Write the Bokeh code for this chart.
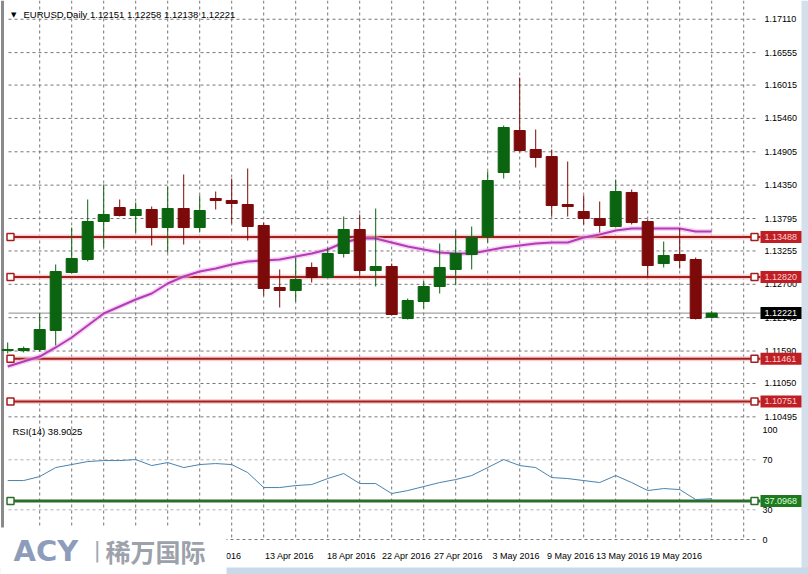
from bokeh.plotting import figure
from bokeh.models import Range1d, ColumnDataSource
from bokeh.core.properties import value
from bokeh.embed import file_html
from bokeh.resources import INLINE

# ---------------- data ----------------
bar = list(range(45))
opens = [1.11599, 1.11599, 1.11616, 1.11932, 1.12897, 1.13113, 1.13745, 1.13978, 1.13845, 1.13945,
         1.13645, 1.13961, 1.13645, 1.14128, 1.14094, 1.14028, 1.13679, 1.12647, 1.12597, 1.12980,
         1.12813, 1.13213, 1.13612, 1.12930, 1.12996, 1.12131, 1.12414, 1.12664, 1.12947, 1.13196,
         1.13496, 1.14560, 1.15259, 1.14943, 1.14826, 1.14028, 1.13911, 1.13795, 1.13662, 1.14228,
         1.13745, 1.13046, 1.13196, 1.13113, 1.12151]
highs = [1.11732, 1.11666, 1.12215, 1.13030, 1.13645, 1.14111, 1.14361, 1.14111, 1.14061, 1.13995,
         1.14327, 1.14527, 1.14178, 1.14244, 1.14460, 1.14627, 1.13728, 1.12947, 1.13146, 1.13063,
         1.13313, 1.13828, 1.13862, 1.13961, 1.13046, 1.12464, 1.12764, 1.13379, 1.13595, 1.13662,
         1.14577, 1.15342, 1.16141, 1.15276, 1.14943, 1.14743, 1.14178, 1.14078, 1.14444, 1.14277,
         1.13778, 1.13412, 1.13629, 1.13146, 1.12258]
lows = [1.11549, 1.11566, 1.11582, 1.11682, 1.12880, 1.13080, 1.13313, 1.13828, 1.13545, 1.13346,
        1.13229, 1.13362, 1.13562, 1.13945, 1.13712, 1.13429, 1.12514, 1.12314, 1.12414, 1.12730,
        1.12797, 1.13146, 1.12830, 1.12664, 1.12181, 1.12115, 1.12298, 1.12547, 1.12697, 1.12947,
        1.13396, 1.14460, 1.14910, 1.14643, 1.13828, 1.13828, 1.13695, 1.13562, 1.13645, 1.13695,
        1.12813, 1.12980, 1.12963, 1.12115, 1.12138]
closes = [1.11616, 1.11632, 1.11948, 1.12913, 1.13130, 1.13745, 1.13862, 1.13845, 1.13945, 1.13645,
          1.13961, 1.13645, 1.13928, 1.14094, 1.14045, 1.13662, 1.12631, 1.12597, 1.12780, 1.12813,
          1.13213, 1.13612, 1.12930, 1.12996, 1.12198, 1.12431, 1.12664, 1.12980, 1.13213, 1.13479,
          1.14427, 1.15309, 1.14926, 1.14810, 1.14011, 1.13995, 1.13795, 1.13679, 1.14244, 1.13728,
          1.13013, 1.13179, 1.13096, 1.12131, 1.12221]
ma = [1.11333, 1.11416, 1.11499, 1.11649, 1.11815, 1.12015, 1.12215, 1.12331, 1.12447, 1.12547,
      1.12714, 1.12830, 1.12913, 1.12963, 1.13030, 1.13080, 1.13096, 1.13113, 1.13163, 1.13213,
      1.13279, 1.13396, 1.13462, 1.13462, 1.13396, 1.13329, 1.13279, 1.13229, 1.13213, 1.13213,
      1.13263, 1.13313, 1.13346, 1.13379, 1.13396, 1.13396, 1.13479, 1.13529, 1.13595, 1.13629,
      1.13629, 1.13629, 1.13629, 1.13579, 1.13579]
rsi = [53.4, 53.4, 56.6, 63.8, 66.2, 68.6, 69.4, 69.4, 70.2, 65.4,
       67.8, 63.8, 66.2, 67.0, 66.2, 59.8, 47.8, 47.8, 49.4, 50.2,
       55.0, 59.0, 51.0, 51.0, 43.0, 45.4, 48.6, 51.8, 54.2, 57.4,
       63.8, 70.2, 65.4, 63.8, 55.8, 55.0, 53.4, 51.8, 57.4, 51.8,
       45.4, 47.0, 46.2, 38.2, 38.9025]
price_ticks = [1.17110, 1.16555, 1.16015, 1.15460, 1.14905, 1.14350, 1.13795,
               1.13255, 1.12700, 1.12145, 1.11590, 1.11050, 1.10495]
levels = [1.13488, 1.12820, 1.11461, 1.10751]
bid = 1.12221
rsi_level = 37.0968
rsi_ticks = [70, 30]
rsi_bounds = ["100", "0"]
date_labels = ["8 Apr 2016", "13 Apr 2016", "18 Apr 2016", "22 Apr 2016", "27 Apr 2016",
               "3 May 2016", "9 May 2016", "13 May 2016", "19 May 2016"]
date_at = [13.24, 17.61, 21.49, 24.93, 28.18, 31.77, 35.18, 38.39, 41.77]   # bar positions of labels
symbol = "EURUSD,Daily"
period = 14

# ---------------- layout: mapping page pixels to data ----------------
W, H = 808, 574
X0, BAR_PX, LEFT = 0.05, 16, 8          # bar coordinate at page x=8, pixels per bar
Y_TOP, Y_BOT, MAIN_TOP, MAIN_H = 1.17289, 1.10451, 8, 411
R70_PX, R_SCALE = 459.3, 1.25           # page y of RSI 70, pixels per RSI unit
GRID_R, GRID_B = 757, 539               # right edge of the grid, bottom of the RSI window


def xpx(px):
    return X0 + (px - LEFT) / BAR_PX


def ypx(py):
    return Y_TOP - (py - MAIN_TOP) * (Y_TOP - Y_BOT) / MAIN_H


def rpx(py):
    return 70 - (py - R70_PX) / R_SCALE


FONT = value("Liberation Sans")
FS = value("9px")
GRID = "#767676"
UP, DN = "#0b640f", "#7d0a0a"
LEVEL_C = "#a51e1e"

p = figure(width=W, height=H, x_range=Range1d(xpx(0), xpx(W)), y_range=Range1d(ypx(H), ypx(0)),
           x_axis_location=None, y_axis_location=None, output_backend="svg", toolbar_location=None,
           min_border_left=0, min_border_right=0, min_border_top=0, min_border_bottom=0,
           outline_line_color=None, background_fill_color="white", border_fill_color="white")
p.extra_y_ranges = {"rsi": Range1d(rpx(H), rpx(0))}
p.grid.visible = False

# window frame bits
p.segment(x0=[xpx(2)], y0=[ypx(0)], x1=[xpx(2)], y1=[ypx(H)], line_color="#8a8a8a", line_width=3)
p.quad(left=[xpx(801)], right=[xpx(W)], top=[ypx(0)], bottom=[ypx(H)], fill_color="#d3dfeb", line_color=None)
p.quad(left=[xpx(0)], right=[xpx(W)], top=[ypx(567)], bottom=[ypx(H)], fill_color="#c9d9ea", line_color=None)

# grid
vgrid = list(range(2, 47, 2))
p.segment(x0=vgrid, y0=[ypx(0)] * len(vgrid), x1=vgrid, y1=[ypx(GRID_B)] * len(vgrid),
          line_color=GRID, line_dash="3 3", line_width=1)
p.segment(x0=[xpx(LEFT)] * len(price_ticks), y0=price_ticks, x1=[xpx(GRID_R)] * len(price_ticks),
          y1=price_ticks, line_color=GRID, line_dash="3 3", line_width=1)
p.segment(x0=[xpx(LEFT)] * len(rsi_ticks), y0=rsi_ticks, x1=[xpx(GRID_R)] * len(rsi_ticks), y1=rsi_ticks,
          line_color="#b0b0b0", line_dash="3 3", line_width=1, y_range_name="rsi")
p.segment(x0=[xpx(LEFT)], y0=[ypx(GRID_B)], x1=[xpx(GRID_R)], y1=[ypx(GRID_B)],
          line_color=GRID, line_dash="3 3", line_width=1)

# level lines
nl = len(levels)
p.segment(x0=[xpx(LEFT)] * nl, y0=levels, x1=[xpx(760)] * nl, y1=levels,
          line_color="#f2c6c6", line_width=5, line_alpha=0.8)
p.segment(x0=[xpx(LEFT)] * nl, y0=levels, x1=[xpx(760)] * nl, y1=levels, line_color=LEVEL_C, line_width=2)
p.segment(x0=[xpx(LEFT)], y0=[bid], x1=[xpx(760)], y1=[bid], line_color="#8c8c8c", line_width=1)

# moving average
p.line(bar, ma, line_color="#f0b8f0", line_width=5, line_alpha=0.6)
p.line(bar, ma, line_color="#b43cb4", line_width=2)

# candles
src = ColumnDataSource(dict(
    x=bar, h=highs, l=lows,
    top=[max(o, c) for o, c in zip(opens, closes)],
    bot=[min(o, c) for o, c in zip(opens, closes)],
    col=[UP if c >= o else DN for o, c in zip(opens, closes)]))
p.segment(x0="x", y0="l", x1="x", y1="h", source=src, line_color="col", line_width=1)
p.vbar(x="x", width=0.69, top="top", bottom="bot", source=src, fill_color="col", line_color="col")

p.scatter([xpx(10)] * nl + [xpx(754)] * nl, levels + levels, marker="square",
          size=7, fill_color="white", line_color=LEVEL_C, line_width=1.5)

# RSI window
p.segment(x0=[xpx(LEFT)], y0=[rsi_level], x1=[xpx(760)], y1=[rsi_level], line_color="#2a6e2a",
          line_width=3, y_range_name="rsi")
p.line(bar, rsi, line_color="#4a82ad", line_width=1, y_range_name="rsi")
p.scatter([xpx(10), xpx(754)], [rsi_level, rsi_level], marker="square", size=7, fill_color="white",
          line_color="#2a6e2a", line_width=1.5, y_range_name="rsi")

# price scale labels
p.text(x=[xpx(764)] * len(price_ticks), y=price_ticks, text=[f"{t:.5f}" for t in price_ticks],
       text_font=FONT, text_font_size=FS, text_color="black", text_baseline="middle", text_align="left")
p.text(x=[xpx(762)] * len(rsi_ticks), y=rsi_ticks, text=[str(t) for t in rsi_ticks], text_font=FONT,
       text_font_size=FS, text_color="black", text_baseline="middle", y_range_name="rsi")
p.text(x=[xpx(762)] * 2, y=[rpx(429), rpx(539)], text=rsi_bounds, text_font=FONT, text_font_size=FS,
       text_color="black", text_baseline="middle", y_range_name="rsi")

# tags on the price scale
tag_y = levels + [bid]
tag_bg = ["#bf1f24"] * nl + ["black"]
tag_fg = ["#ffd0d0"] * nl + ["white"]
p.rect(x=[xpx(780.5)] * len(tag_y), y=tag_y, width=41, height=12, width_units="screen",
       height_units="screen", fill_color=tag_bg, line_color=None)
p.text(x=[xpx(764)] * len(tag_y), y=tag_y, text=[f"{v:.5f}" for v in tag_y], text_font=FONT,
       text_font_size=FS, text_color=tag_fg, text_baseline="middle")
p.rect(x=[xpx(780.5)], y=[rsi_level], width=41, height=12, width_units="screen", height_units="screen",
       fill_color="#1f7a1f", line_color=None, y_range_name="rsi")
p.text(x=[xpx(764)], y=[rsi_level], text=[f"{rsi_level:.4f}"], text_font=FONT, text_font_size=FS,
       text_color="#d8ffd8", text_baseline="middle", y_range_name="rsi")

# time scale labels
p.text(x=date_at, y=[ypx(555)] * len(date_at), text=date_labels, text_font=FONT, text_font_size=FS,
       text_color="black", text_baseline="middle", text_align="center")

# headers
title_txt = f"{symbol}  " + " ".join(f"{v:.5f}" for v in (opens[-1], highs[-1], lows[-1], closes[-1]))
p.text(x=[xpx(10.5)], y=[ypx(14)], text=["\u25bc"], text_font=value("DejaVu Sans"),
       text_font_size=value("7px"), text_color="black", text_baseline="middle")
p.text(x=[xpx(23)], y=[ypx(14)], text=[title_txt], text_font=FONT, text_font_size=value("9.5px"),
       text_color="black", text_baseline="middle")
p.text(x=[xpx(12)], y=[ypx(431)], text=[f"RSI({period}) {rsi[-1]:.4f}"], text_font=FONT,
       text_font_size=value("9.5px"), text_color="black", text_baseline="middle")

# logo
p.quad(left=[xpx(0)], right=[xpx(226)], top=[ypx(527)], bottom=[ypx(H)], fill_color="white", line_color=None)
p.text(x=[xpx(13)], y=[ypx(550)], text=["ACY"], text_font=value("DejaVu Sans"), text_font_style="bold",
       text_font_size=value("29px"), text_color="#8d9cba", text_baseline="middle")
p.text(x=[xpx(93)], y=[ypx(549)], text=["|"], text_font=value("DejaVu Sans"),
       text_font_size=value("22px"), text_color="#a3a9b5", text_baseline="middle")
p.text(x=[xpx(105)], y=[ypx(550)], text=["稀万国际"], text_font=value("Noto Sans CJK SC"),
       text_font_style="bold", text_font_size=value("25px"), text_color="#9ca1ab", text_baseline="middle")

open("out.html", "w").write(file_html(p, INLINE))
